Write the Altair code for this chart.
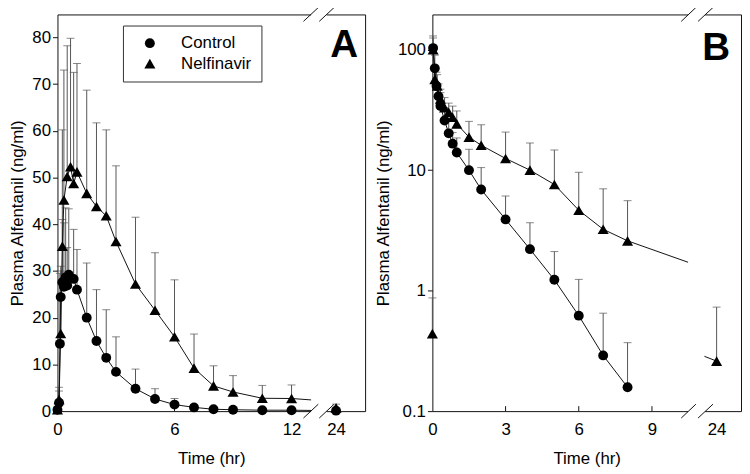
import altair as alt
import pandas as pd

FONT = "Liberation Sans"
ERR = "#555555"
INK = "#111111"

# ---------------- Panel A (oral alfentanil) ----------------
A_ctrl_t = [0, 0.083, 0.125, 0.167, 0.25, 0.33, 0.42, 0.5, 0.58, 0.83, 1.0,
            1.5, 2, 2.5, 3, 4, 5, 6, 7, 8, 9, 10.5, 12, 24]
A_ctrl_v = [0.3, 1.8, 14.4, 24.4, 27.6, 26.6, 28.6, 26.9, 29.2, 28.3, 26.0,
            20.0, 15.0, 11.4, 8.4, 4.8, 2.6, 1.4, 0.8, 0.4, 0.3, 0.2, 0.2, 0.1]
A_ctrl_err = [0.6, 4.3, 29.5, 31.0, 41.0, 40.3, 43.5, 35.0, 43.3, 38.9, 34.6,
              31.7, 26.0, 21.7, 15.9, 9.0, 4.8, 2.7, 1.4, 0.8, 0.6, 0.4, 0.4, 0.2]

A_nelf_t = [0, 0.083, 0.167, 0.25, 0.33, 0.5, 0.67, 0.83, 1.0,
            1.5, 2, 2.5, 3, 4, 5, 6, 7, 8, 9, 10.5, 12, 24]
A_nelf_v = [0.3, 2.5, 16.6, 35.3, 45.2, 50.2, 52.3, 48.7, 51.2,
            46.6, 43.8, 41.8, 36.3, 27.2, 21.6, 15.9, 9.2, 5.4, 4.1, 2.75, 2.7, 0.7]
A_nelf_err = [0.6, 5.1, 30.0, 60.2, 73.0, 78.2, 79.8, 72.5, 74.4,
              68.7, 61.7, 60.2, 52.5, 41.5, 33.9, 28.1, 16.5, 9.7, 7.6, 5.5, 5.6, 1.5]

# fitted-curve ends running into the axis break (axis position, value)
A_ctrl_tail = [(13.0, 0.15)]
A_nelf_tail = [(13.0, 2.4)]

# ---------------- Panel B (intravenous alfentanil) ----------------
B_ctrl_t = [0.03, 0.1, 0.17, 0.25, 0.33, 0.5, 0.67, 0.83, 1.0, 1.5, 2, 3, 4, 5, 6, 7, 8]
B_ctrl_v = [103, 70, 50, 41, 34, 25.8, 20.2, 16.6, 14.0, 10.0, 6.9, 3.9, 2.21, 1.23, 0.62, 0.29, 0.158]
B_ctrl_err = [130, 90, 65, 52, 44, 33, 27, 20.5, 18.5, 14.9, 10.5, 6.1, 3.66, 2.11, 1.24, 0.65, 0.37]

B_nelf_t = [0.03, 0.1, 0.2, 0.33, 0.5, 0.67, 0.83, 1.0, 1.5, 2, 3, 4, 5, 6, 7, 8, 24]
B_nelf_v = [100, 56.7, 50, 38.9, 33, 30.2, 27.5, 24.2, 18.8, 16.1, 12.5, 10.0, 7.6, 4.65, 3.23, 2.59, 0.26]
B_nelf_err = [125, 68, 62, 47, 40, 36, 34, 31, 25.4, 23.8, 20.7, 16.8, 14.7, 9.6, 7.0, 5.58, 0.73]
B_nelf_pre = (0, 0.44, 0.87)

B_nelf_tail = [(10.48, 1.72)]
B_nelf_lead24 = [(11.15, 0.285)]

SERIES = ["Control", "Nelfinavir"]

# axis-break layout (axis positions)
A_POS24, B_POS24 = 14.28, 11.65
A_XMAX, B_XMAX = 15.77, 12.65
A_SLASH = ([12.61, 13.42], [13.37, 14.18])
B_SLASH = ([10.20, 10.89], [10.80, 11.50])
A_GAP = (13.0, 13.8)
B_GAP = (10.48, 11.18)

W_A, W_B, H = 311, 312, 401


def pos_of(t, pos24):
    return pos24 if t == 24 else t


def point_df(series_data, pos24):
    rows = []
    for name, ts, vs, es in series_data:
        for t, v, e in zip(ts, vs, es):
            rows.append({"pos": pos_of(t, pos24), "v": v, "err": e, "series": name})
    return pd.DataFrame(rows)


def panel(pts, lines, xmax, ydom, ylog, xvals, xexpr, yvals, yfmt, inticks,
          slash, gap, letter, letter_x, letter_y, W, with_legend):
    xs = alt.Scale(domain=[0, xmax], nice=False, zero=False)
    if ylog:
        ys = alt.Scale(type="log", domain=ydom, nice=False)
    else:
        ys = alt.Scale(domain=ydom, nice=False, zero=False)
    xaxis = alt.Axis(values=xvals, labelExpr=xexpr, title="Time (hr)", tickSize=0,
                     labelPadding=11, titlePadding=13, domain=False, grid=False,
                     labelFlush=False, labelOverlap=False)
    yaxis = alt.Axis(values=yvals, format=yfmt, title="Plasma Alfentanil (ng/ml)",
                     tickSize=5, labelPadding=2, titlePadding=5, domain=False,
                     grid=False, labelOverlap=False)

    def X(f):
        return alt.X(f, scale=xs, axis=xaxis)

    def Y(f):
        return alt.Y(f, scale=ys, axis=yaxis)

    one = pd.DataFrame({"k": [0]})
    gap_df = pd.DataFrame({"g1": [gap[0]], "g2": [gap[1]]})
    slash_df = pd.DataFrame({"x1": slash[0], "x2": slash[1]})
    tick_df = pd.DataFrame({"pos": inticks})

    layers = []
    for yy in (0, H):
        layers.append(alt.Chart(gap_df).mark_rule(color="white", strokeWidth=4).encode(
            x=X("g1:Q"), x2="g2:Q", y=alt.value(yy)))
    for yy in (0, H):
        layers.append(alt.Chart(slash_df).mark_rule(color=INK, strokeWidth=1).encode(
            x=X("x1:Q"), x2="x2:Q", y=alt.value(yy + 7), y2=alt.value(yy - 7)))
    layers.append(alt.Chart(tick_df).mark_rule(color=INK, strokeWidth=1).encode(
        x=X("pos:Q"), y=alt.value(H), y2=alt.value(H - 5)))

    layers.append(alt.Chart(pts).mark_rule(color=ERR, strokeWidth=1).encode(
        x=X("pos:Q"), y=Y("v:Q"), y2="err:Q"))
    layers.append(alt.Chart(pts).mark_tick(orient="horizontal", size=8, thickness=1,
                                           color=ERR).encode(
        x=X("pos:Q"), y=Y("err:Q")))
    layers.append(alt.Chart(lines).mark_line(color=INK, strokeWidth=1).encode(
        x=X("pos:Q"), y=Y("v:Q"), detail="seg:N", order="pos:Q"))
    layers.append(alt.Chart(pts).mark_point(filled=True, opacity=1, color="black",
                                            strokeWidth=0).encode(
        x=X("pos:Q"), y=Y("v:Q"),
        shape=alt.Shape("series:N", scale=alt.Scale(domain=SERIES, range=["circle", "triangle-up"]), legend=None),
        size=alt.Size("series:N", scale=alt.Scale(domain=SERIES, range=[100, 125]), legend=None)))

    layers.append(alt.Chart(one).mark_text(text=letter, fontSize=39, fontWeight="bold",
                                           font=FONT, align="right", baseline="alphabetic",
                                           color="black").encode(
        x=alt.value(letter_x), y=alt.value(letter_y)))

    if with_legend:
        layers.append(alt.Chart(one).mark_rect(fill="white", stroke="#333333", strokeWidth=1).encode(
            x=alt.value(66.7), x2=alt.value(206.7), y=alt.value(11.7), y2=alt.value(68.3)))
        layers.append(alt.Chart(one).mark_point(shape="circle", filled=True, size=100, opacity=1,
                                                color="black", strokeWidth=0).encode(
            x=alt.value(93.4), y=alt.value(29)))
        layers.append(alt.Chart(one).mark_point(shape="triangle-up", filled=True, size=125, opacity=1,
                                                color="black", strokeWidth=0).encode(
            x=alt.value(93.4), y=alt.value(49.7)))
        for i, name in enumerate(SERIES):
            layers.append(alt.Chart(one).mark_text(text=name, fontSize=17, font=FONT, align="left",
                                                   baseline="middle", color="black").encode(
                x=alt.value(125), y=alt.value(29 + 20.7 * i)))

    return alt.layer(*layers).properties(width=W, height=H)


# ----- build data tables -----
A_pts = point_df([("Control", A_ctrl_t, A_ctrl_v, A_ctrl_err),
                  ("Nelfinavir", A_nelf_t, A_nelf_v, A_nelf_err)], A_POS24)
A_lines = pd.DataFrame(
    [{"pos": t, "v": v, "seg": "c1"} for t, v in zip(A_ctrl_t, A_ctrl_v) if t != 24]
    + [{"pos": p, "v": v, "seg": "c1"} for p, v in A_ctrl_tail]
    + [{"pos": t, "v": v, "seg": "n1"} for t, v in zip(A_nelf_t, A_nelf_v) if t != 24]
    + [{"pos": p, "v": v, "seg": "n1"} for p, v in A_nelf_tail])

B_pts = point_df([("Control", B_ctrl_t, B_ctrl_v, B_ctrl_err),
                  ("Nelfinavir", [B_nelf_pre[0]] + B_nelf_t, [B_nelf_pre[1]] + B_nelf_v,
                   [B_nelf_pre[2]] + B_nelf_err)], B_POS24)
B_lines = pd.DataFrame(
    [{"pos": t, "v": v, "seg": "c1"} for t, v in zip(B_ctrl_t, B_ctrl_v)]
    + [{"pos": t, "v": v, "seg": "n1"} for t, v in zip(B_nelf_t, B_nelf_v) if t != 24]
    + [{"pos": p, "v": v, "seg": "n1"} for p, v in B_nelf_tail]
    + [{"pos": p, "v": v, "seg": "n2"} for p, v in B_nelf_lead24]
    + [{"pos": B_POS24, "v": B_nelf_v[-1], "seg": "n2"}])

chartA = panel(A_pts, A_lines, A_XMAX, [0, 84.9], False, [0, 6, 12, A_POS24],
               "datum.value > 13 ? '24' : datum.label", list(range(0, 81, 10)), "d",
               [6, 12], A_SLASH, A_GAP, "A", W_A - 7, 43, W_A, True)
chartB = panel(B_pts, B_lines, B_XMAX, [0.1, 196], True, [0, 3, 6, 9, B_POS24],
               "datum.value > 10 ? '24' : datum.label", [0.1, 1, 10, 100], ".1~f",
               [3, 6, 9], B_SLASH, B_GAP, "B", W_B - 11, 46, W_B, False)

chart = alt.hconcat(chartA, chartB, spacing=8).properties(
    padding={"left": 0, "top": -4, "right": 0, "bottom": 0}
).configure_view(stroke=INK, strokeWidth=1).configure_axis(
    labelFont=FONT, titleFont=FONT, labelFontSize=17, titleFontSize=17,
    labelColor="black", titleColor="black", titleFontWeight="normal",
    tickColor=INK, tickWidth=1)

chart.save("out.html", embed_options={"renderer": "svg", "actions": False})
